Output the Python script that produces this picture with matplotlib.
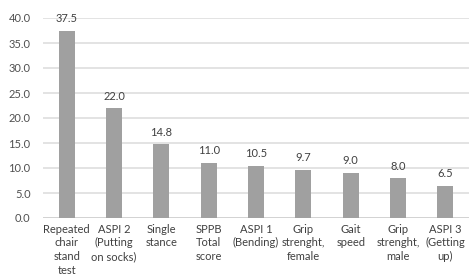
import matplotlib
matplotlib.use("Agg")
import matplotlib.pyplot as plt

categories = ["Repeated\nchair\nstand\ntest", "ASPI 2\n(Putting\non socks)", "Single\nstance",
              "SPPB\nTotal\nscore", "ASPI 1\n(Bending)", "Grip\nstrenght,\nfemale",
              "Gait\nspeed", "Grip\nstrenght,\nmale", "ASPI 3\n(Getting\nup)"]
values = [37.5, 22.0, 14.8, 11.0, 10.5, 9.7, 9.0, 8.0, 6.5]
yticks = [0, 5, 10, 15, 20, 25, 30, 35, 40]

plt.rcParams["font.family"] = ["Lato", "DejaVu Sans"]
fig = plt.figure(figsize=(4.69, 2.76), dpi=100)
ax = fig.add_axes([43/469, 1 - 218/276, 426/469, 200/276])
x = range(len(categories))
ax.bar(x, values, width=0.34, color="#a0a0a0", zorder=3)
for xi, v in zip(x, values):
    ax.text(xi, min(v + 1.3, 39.2), f"{v:.1f}", ha="center", va="bottom", fontsize=8, color="#404040")
ax.set_xlim(-0.5, len(categories) - 0.5)
ax.set_ylim(0, 40)
ax.set_yticks(yticks)
ax.set_yticklabels([f"{t:.1f}" for t in yticks], fontsize=8, color="#505050")
ax.set_xticks(list(x))
ax.set_xticklabels(categories, fontsize=8, color="#404040", linespacing=1.3)
ax.tick_params(length=0, pad=9)
ax.tick_params(axis="x", pad=4)
ax.grid(axis="y", color="#dedede", linewidth=1.2, zorder=0)
for s in ax.spines.values():
    s.set_visible(False)
ax.axhline(0, color="#d0d0d0", linewidth=1.2, zorder=2)
fig.savefig("out.png", dpi=100)
